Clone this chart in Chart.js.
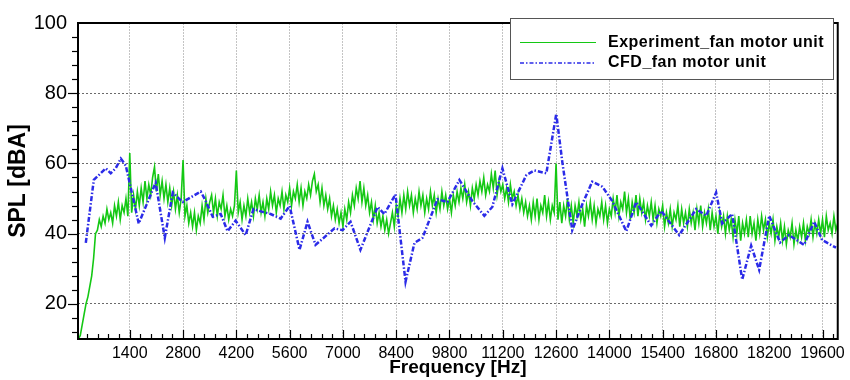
<!DOCTYPE html>
<html>
<head>
<meta charset="utf-8">
<title>SPL spectrum</title>
<script src="https://cdn.jsdelivr.net/npm/chart.js@4.4.0/dist/chart.umd.min.js"></script>
<style>
  html, body { margin: 0; padding: 0; background: #ffffff; }
  #wrap { width: 850px; height: 380px; }
</style>
</head>
<body>
<div id="wrap"><canvas id="splChart" width="850" height="380"></canvas></div>
<script>
/* --------------- Data --------------------- */
var seriesNames = ["Experiment_fan motor unit", "CFD_fan motor unit"];

// experiment: one value per 50 Hz bin, 50 .. 20000 Hz (10 bins per row = 500 Hz)
var expStartHz = 50;
var expStepHz = 50;
var expSpl = [
  10, 11, 14, 17, 20, 22, 25, 28, 33, 40,
  41, 44, 42, 45, 43, 47, 44, 46, 43, 48,
  45, 49, 44, 48, 46, 50, 45, 63, 46, 51,
  47, 52, 48, 53, 49, 55, 50, 54, 51, 56,
  59, 52, 57, 51, 55, 50, 54, 49, 53, 48,
  52, 47, 51, 46, 50, 61, 45, 48, 43, 46,
  42, 46, 41, 45, 43, 48, 44, 50, 46, 49,
  51, 46, 50, 45, 49, 47, 51, 45, 48, 44,
  47, 45, 48, 58, 46, 49, 44, 48, 45, 50,
  46, 49, 45, 50, 47, 51, 46, 49, 45, 50,
  47, 52, 48, 51, 46, 50, 48, 52, 47, 51,
  49, 53, 48, 52, 50, 54, 49, 53, 48, 52,
  50, 54, 51, 55, 57, 52, 54, 49, 53, 48,
  51, 47, 50, 45, 48, 44, 47, 43, 46, 42,
  47, 44, 49, 46, 51, 48, 53, 50, 55, 49,
  53, 48, 51, 46, 49, 44, 48, 43, 46, 42,
  45, 41, 44, 40, 43, 46, 42, 48, 45, 50,
  46, 51, 47, 52, 48, 51, 46, 50, 47, 52,
  48, 51, 46, 50, 47, 52, 48, 51, 46, 50,
  47, 52, 48, 51, 47, 50, 46, 51, 48, 52,
  49, 53, 50, 54, 49, 52, 48, 53, 50, 54,
  51, 55, 52, 56, 51, 54, 52, 57, 53, 58,
  51, 55, 52, 54, 50, 53, 49, 54, 50, 52,
  48, 51, 47, 50, 46, 49, 45, 48, 44, 49,
  45, 50, 44, 48, 46, 51, 45, 49, 44, 48,
  46, 60, 44, 49, 43, 48, 45, 50, 44, 48,
  43, 48, 45, 49, 44, 47, 42, 48, 45, 49,
  44, 48, 43, 47, 45, 49, 44, 48, 43, 47,
  45, 50, 46, 51, 45, 49, 47, 52, 46, 50,
  44, 49, 46, 51, 45, 50, 46, 49, 44, 48,
  45, 49, 44, 48, 43, 47, 45, 48, 42, 46,
  43, 47, 42, 46, 44, 48, 42, 47, 43, 46,
  42, 47, 43, 46, 41, 47, 43, 48, 42, 46,
  43, 47, 41, 46, 42, 45, 40, 46, 42, 45,
  40, 45, 41, 44, 39, 44, 40, 45, 38, 43,
  40, 44, 39, 45, 40, 43, 38, 44, 40, 45,
  41, 44, 39, 43, 40, 44, 38, 42, 39, 43,
  38, 42, 37, 41, 39, 43, 37, 41, 38, 42,
  39, 43, 38, 42, 40, 44, 39, 43, 40, 44,
  40, 44, 39, 45, 41, 43, 40, 45, 41, 43
];

// CFD: coarser spectrum
var cfdFreq = [
  245, 455, 770, 900, 1030, 1165, 1295, 1635, 2080, 2320,
  2530, 2790, 3265, 3395, 3580, 3790, 3970, 4180, 4445, 4650,
  4890, 5100, 5365, 5600, 5860, 6070, 6280, 6780, 6990, 7200,
  7460, 7910, 8090, 8380, 8645, 8880, 9090, 9485, 9745, 10060,
  10400, 10715, 10925, 11190, 11450, 11820, 12030, 12345, 12605, 12765,
  13025, 13290, 13550, 13815, 14075, 14445, 14705, 15100, 15360, 15835,
  16280, 16545, 16805, 16965, 17225, 17490, 17725, 17935, 18200, 18485,
  18720, 19115, 19380, 19590, 19955
];
var cfdSpl = [
  37.4, 55.3, 58.6, 57.2, 58.6, 61.4, 59.4, 42.9, 54.5, 38.8,
  51.7, 49.0, 52.0, 49.3, 44.8, 45.6, 40.7, 43.7, 39.6, 47.0,
  46.2, 45.6, 44.3, 47.9, 35.4, 43.4, 36.8, 41.5, 41.0, 43.4,
  35.4, 47.6, 45.6, 51.2, 26.3, 37.4, 38.8, 49.8, 49.0, 55.3,
  49.3, 45.1, 47.6, 58.6, 48.4, 56.7, 58.0, 57.2, 74.1, 60.3,
  41.0, 48.4, 54.8, 53.4, 49.3, 40.7, 49.0, 42.3, 46.5, 39.6,
  47.0, 45.1, 51.7, 42.9, 45.6, 26.9, 36.6, 29.7, 45.1, 37.5,
  39.6, 36.8, 43.4, 38.2, 36.0
];

/* --------------- Axes --------------------- */
var freqTicks = [1400, 2800, 4200, 5600, 7000, 8400, 9800, 11200, 12600, 14000, 15400, 16800, 18200, 19600];
var splTicks = [20, 40, 60, 80, 100];
var freqMin = 40, freqMax = 20000, freqMinorStep = 280;
var splMin = 10, splMax = 100, splMinorStep = 4;

var expColor = "#14c814";
var cfdColor = "#2b2be8";
var fontFamily = "'Liberation Sans', Arial, Helvetica, sans-serif";

var expPoints = expSpl.map(function (v, i) {
  return { x: expStartHz + i * expStepHz, y: v };
});
var cfdPoints = cfdFreq.map(function (f, i) {
  return { x: f, y: cfdSpl[i] };
});

/* --------------- Frame, inner ticks, legend --------------------- */
var framePlugin = {
  id: "framePlugin",
  afterDraw: function (chart) {
    var ctx = chart.ctx;
    var a = chart.chartArea;
    var xs = chart.scales.x;
    var ys = chart.scales.y;
    ctx.save();
    ctx.strokeStyle = "#000";
    ctx.lineWidth = 1.2;

    // x ticks point into the plot
    for (var f = freqMinorStep; f < freqMax; f += freqMinorStep) {
      var px = Math.round(xs.getPixelForValue(f)) + 0.5;
      var len = (f % 1400 === 0) ? 9 : 5;
      ctx.beginPath();
      ctx.moveTo(px, a.bottom);
      ctx.lineTo(px, a.bottom - len);
      ctx.stroke();
    }
    // y ticks point out to the labels
    for (var s = 12; s < splMax; s += splMinorStep) {
      var py = Math.round(ys.getPixelForValue(s)) + 0.5;
      var l2 = (s % 20 === 0) ? 10 : 6;
      ctx.beginPath();
      ctx.moveTo(a.left, py);
      ctx.lineTo(a.left - l2, py);
      ctx.stroke();
    }

    ctx.lineWidth = 2;
    ctx.strokeRect(a.left, a.top, a.right - a.left, a.bottom - a.top);

    // legend box
    var bx = 510, by = 18, bw = 323, bh = 61;
    ctx.fillStyle = "#fff";
    ctx.fillRect(bx, by, bw, bh);
    ctx.lineWidth = 1;
    ctx.strokeStyle = "#555";
    ctx.strokeRect(bx + 0.5, by + 0.5, bw, bh);

    var rows = [
      { y: 42.5, color: expColor, width: 1, dash: [] },
      { y: 63, color: cfdColor, width: 1.6, dash: [4, 2, 1.5, 2] }
    ];
    ctx.font = "bold 16px " + fontFamily;
    ctx.letterSpacing = "0.5px";
    ctx.textBaseline = "middle";
    ctx.textAlign = "left";
    rows.forEach(function (r, i) {
      ctx.beginPath();
      ctx.strokeStyle = r.color;
      ctx.lineWidth = r.width;
      ctx.setLineDash(r.dash);
      ctx.moveTo(520, r.y);
      ctx.lineTo(596, r.y);
      ctx.stroke();
      ctx.setLineDash([]);
      ctx.fillStyle = "#000";
      ctx.fillText(seriesNames[i], 608, r.y);
    });
    ctx.restore();
  }
};

/* --------------- Chart --------------------- */
var splChart = new Chart(document.getElementById("splChart"), {
  type: "line",
  data: {
    datasets: [
      {
        label: seriesNames[0],
        data: expPoints,
        borderColor: expColor,
        borderWidth: 1.6,
        pointRadius: 0,
        tension: 0,
        order: 2
      },
      {
        label: seriesNames[1],
        data: cfdPoints,
        borderColor: cfdColor,
        borderWidth: 2.5,
        borderDash: [5, 2, 1.5, 2],
        pointRadius: 0,
        tension: 0,
        order: 1
      }
    ]
  },
  options: {
    responsive: false,
    animation: false,
    devicePixelRatio: 1,
    layout: { padding: { left: 0, right: 12, top: 13, bottom: 0 } },
    plugins: {
      legend: { display: false },
      tooltip: { enabled: false }
    },
    scales: {
      x: {
        type: "linear",
        min: freqMin,
        max: freqMax,
        afterBuildTicks: function (scale) {
          scale.ticks = freqTicks.map(function (v) { return { value: v }; });
        },
        afterFit: function (scale) { scale.height = 41; },
        ticks: {
          autoSkip: false,
          maxRotation: 0,
          padding: 5,
          color: "#000",
          font: { family: fontFamily, size: 16 },
          callback: function (v) { return String(v); }
        },
        grid: { color: "#c4c4c4", lineWidth: 1, drawTicks: false },
        border: { display: false, dash: [2, 1] },
        title: {
          display: true,
          text: "Frequency [Hz]",
          color: "#000",
          font: { family: fontFamily, size: 19, weight: "bold" },
          padding: { top: 0, bottom: 1 }
        }
      },
      y: {
        type: "linear",
        min: splMin,
        max: splMax,
        afterBuildTicks: function (scale) {
          scale.ticks = splTicks.map(function (v) { return { value: v }; });
        },
        afterFit: function (scale) { scale.width = 78; },
        ticks: {
          padding: 11,
          color: "#000",
          font: { family: fontFamily, size: 20 }
        },
        grid: {
          color: function (c) { return c.tick && c.tick.value === 100 ? "rgba(0,0,0,0)" : "#6a6a6a"; },
          lineWidth: 1,
          drawTicks: false
        },
        border: { display: false, dash: [2, 2] },
        title: {
          display: true,
          text: "SPL [dBA]",
          color: "#000",
          font: { family: fontFamily, size: 23, weight: "bold" },
          padding: { top: 5, bottom: 0 }
        }
      }
    }
  },
  plugins: [framePlugin]
});
</script>
</body>
</html>
